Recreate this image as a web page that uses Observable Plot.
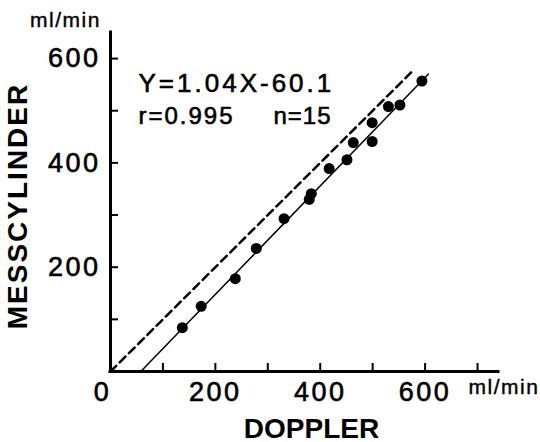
<!DOCTYPE html>
<html>
<head>
<meta charset="utf-8">
<script src="https://cdn.jsdelivr.net/npm/d3@7"></script>
<script src="https://cdn.jsdelivr.net/npm/@observablehq/plot@0.6"></script>
<style>
  html, body { margin: 0; padding: 0; background: #fff; }
  svg { display: block; }
</style>
</head>
<body>
<script>
// Data (ml/min)
const doppler      = [137, 173, 238, 278, 331, 379, 383, 417, 451, 463, 499, 499, 530, 552, 594];
const messcylinder = [ 84, 125, 178, 236, 293, 330, 341, 389, 406, 439, 441, 477, 508, 511, 557];

const xTicks = [100, 200, 300, 400, 500, 600, 700];
const yTicks = [100, 200, 300, 400, 500, 600];
const xLabels = [200, 400, 600];
const yLabels = [200, 400, 600];
const xDomain = [0, 740];
const yDomain = [0, 650];

// Regression line Y = 1.04X - 60.1, drawn between these x values
const slope = 1.04, intercept = -60.1;
const fitX = [57.8, 606];
// Identity (dashed) line endpoints
const identityX = [0, 575];

const equationText = "Y=1.04X-60.1";
const rText = "r=0.995";
const nText = "n=15";
const unitText = "ml/min";
const xTitle = "DOPPLER";
const yTitle = "MESSCYLINDER";

const points = doppler.map((d, i) => ({x: d, y: messcylinder[i]}));
const fitLine = fitX.map(x => ({x, y: slope * x + intercept}));
const identityLine = identityX.map(x => ({x, y: x}));

const font = "'Liberation Sans', Arial, Helvetica, sans-serif";

const chart = Plot.plot({
  width: 540,
  height: 442,
  marginLeft: 110,
  marginRight: 42,
  marginTop: 32,
  marginBottom: 71,
  style: {fontFamily: font, background: "white", color: "black", overflow: "visible"},
  x: {domain: xDomain, axis: null},
  y: {domain: yDomain, axis: null},
  marks: [
    // axis lines
    Plot.ruleY([0], {strokeWidth: 3, strokeLinecap: "square"}),
    Plot.ruleX([0], {strokeWidth: 3, strokeLinecap: "square"}),
    // inward ticks
    Plot.ruleX(xTicks, {x: d => d, y1: 0, y2: 0, insetTop: -8, strokeWidth: 2}),
    Plot.ruleY(yTicks, {y: d => d, x1: 0, x2: 0, insetRight: -8, strokeWidth: 2}),
    // tick labels
    Plot.text(xLabels, {x: d => d, y: 0, dy: 29, lineAnchor: "bottom", textAnchor: "middle",
      fontSize: 27, fill: "black"}),
    Plot.text([0], {x: d => d, y: d => d, dx: -8, dy: 29, lineAnchor: "bottom", textAnchor: "middle",
      fontSize: 27, fill: "black"}),
    Plot.text(yLabels, {x: 0, y: d => d, dx: -10, lineAnchor: "middle", textAnchor: "end",
      fontSize: 27, fill: "black"}),
    // units
    Plot.text([unitText], {frameAnchor: "top-left", dx: -45, dy: -6, lineAnchor: "bottom",
      textAnchor: "middle", fontSize: 21, fill: "black"}),
    Plot.text([unitText], {frameAnchor: "bottom-right", dx: -30, dy: 22, lineAnchor: "bottom",
      textAnchor: "start", fontSize: 21, fill: "black"}),
    // axis titles
    Plot.text([xTitle], {frameAnchor: "bottom", dx: 7, dy: 66, lineAnchor: "bottom",
      textAnchor: "middle", fontSize: 28, fontWeight: "bold", fill: "black"}),
    Plot.text([yTitle], {frameAnchor: "left", dx: -92, dy: 4, rotate: -90, lineAnchor: "middle",
      textAnchor: "middle", fontSize: 28, fontWeight: "bold", fill: "black"}),
    // annotation
    Plot.text([equationText], {frameAnchor: "top-left", dx: 28, dy: 59, lineAnchor: "bottom",
      textAnchor: "start", fontSize: 26, fill: "black"}),
    Plot.text([rText], {frameAnchor: "top-left", dx: 28, dy: 91, lineAnchor: "bottom",
      textAnchor: "start", fontSize: 24, fill: "black"}),
    Plot.text([nText], {frameAnchor: "top-left", dx: 163, dy: 91, lineAnchor: "bottom",
      textAnchor: "start", fontSize: 24, fill: "black"}),
    // lines
    Plot.line(identityLine, {x: "x", y: "y", strokeWidth: 2.5, strokeDasharray: "8,5"}),
    Plot.line(fitLine, {x: "x", y: "y", strokeWidth: 1.5}),
    // points
    Plot.dot(points, {x: "x", y: "y", r: 5.5, fill: "black", stroke: "none"})
  ]
});

// letter spacing and a thin outline to mimic the wide, heavy typeface of the original
const spacing = new Map([
  [unitText, 1.5], [yTitle, 2], [equationText, 3], [rText, 2], [nText, 1]
]);
chart.querySelectorAll("text").forEach(t => {
  const s = t.textContent;
  let ls = spacing.get(s);
  if (ls === undefined && /^\d+$/.test(s)) ls = 2.5;
  if (ls !== undefined) t.setAttribute("letter-spacing", ls + "px");
  if (s !== xTitle && s !== yTitle) {
    t.style.stroke = "black";
    t.style.strokeWidth = s === unitText ? "0.4px" : "0.6px";
    t.style.fill = "black";
  }
});

document.body.appendChild(chart);
</script>
</body>
</html>
